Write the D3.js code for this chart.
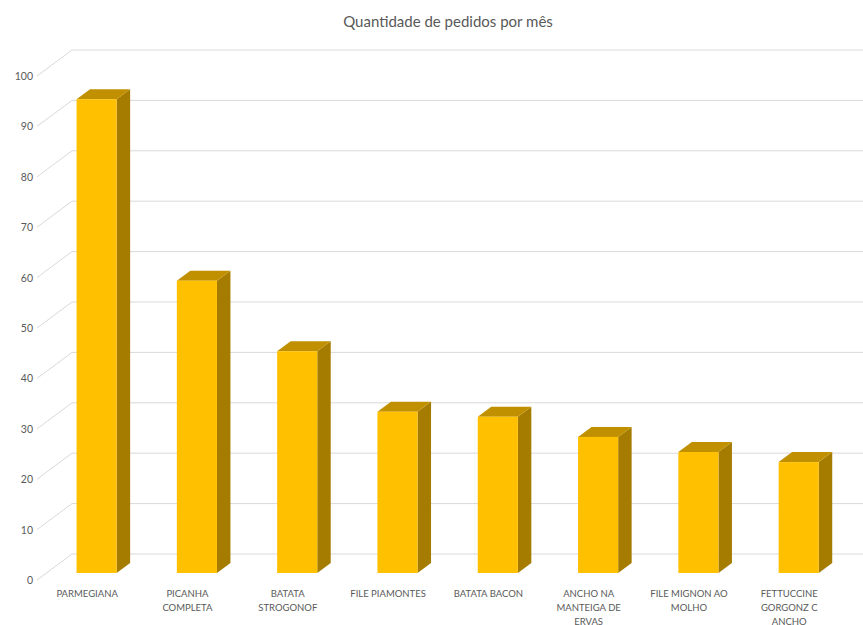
<!DOCTYPE html>
<html lang="pt">
<head>
    <meta charset="UTF-8">
    <title>Quantidade de pedidos por mês</title>
    <script src="https://cdnjs.cloudflare.com/ajax/libs/d3/7.8.5/d3.min.js"></script>
    <style>
        body { margin: 0; background: #fff; }
        svg { display: block; font-family: Lato, "Open Sans", sans-serif; }
        .tick-label, .cat-label { fill: #595959; }
        .title { fill: #595959; }
    </style>
</head>
<body>
    <svg id="chart" width="863" height="625"></svg>
    <script>
        // Data
        const categories = ["PARMEGIANA", "PICANHA COMPLETA", "BATATA STROGONOF", "FILE PIAMONTES",
            "BATATA BACON", "ANCHO NA MANTEIGA DE ERVAS", "FILE MIGNON AO MOLHO", "FETTUCCINE GORGONZ C ANCHO"];
        const pedidos = [94, 58, 44, 32, 31, 27, 24, 22];
        const yTicks = [0, 10, 20, 30, 40, 50, 60, 70, 80, 90, 100];

        const svg = d3.select("#chart");

        // front plane of the floor, depth offset goes up-right
        const x = d3.scaleBand()
            .domain(categories)
            .range([37, 37 + 100.3 * categories.length])
            .paddingInner(0).paddingOuter(0);
        const y = d3.scaleLinear().domain([0, 100]).range([580, 76]);
        const depth = {dx: 35, dy: -26};
        const proj = (px, py, d) => [px + depth.dx * d, py + depth.dy * d];

        const barW = x.bandwidth() / 2.5;   // gap width 150%
        const dFront = 0.27, dBack = 0.655;

        // back wall gridlines + left wall diagonals
        const grid = svg.append("g");
        yTicks.forEach(t => {
            const [bx, by] = proj(37, y(t), 1);
            grid.append("line")
                .attr("x1", bx).attr("y1", by)
                .attr("x2", 863).attr("y2", by)
                .attr("stroke", "#d9d9d9").attr("stroke-width", 1);
            grid.append("line")
                .attr("x1", 37).attr("y1", y(t))
                .attr("x2", bx).attr("y2", by)
                .attr("stroke", "#d9d9d9").attr("stroke-width", 1);
        });

        svg.append("g").selectAll("text")
            .data(yTicks)
            .enter().append("text")
            .attr("class", "tick-label")
            .attr("x", 33)
            .attr("y", d => y(d) + 4)
            .attr("text-anchor", "end")
            .attr("font-size", 10.5)
            .text(d => d);

        // bars
        const bars = svg.append("g");
        categories.forEach((c, i) => {
            const v = pedidos[i];
            const x0 = x(c) + (x.bandwidth() - barW) / 2;
            const x1 = x0 + barW;
            const fb = proj(x0, y(0), dFront), ft = proj(x0, y(v), dFront);
            const fr = proj(x1, y(0), dFront), frt = proj(x1, y(v), dFront);
            const bb = proj(x1, y(0), dBack), bt = proj(x1, y(v), dBack);
            const blt = proj(x0, y(v), dBack);
            const g = bars.append("g");
            // side
            g.append("polygon")
                .attr("points", [frt, fr, bb, bt].map(p => p.join(",")).join(" "))
                .attr("fill", "#a67c00");
            // top
            g.append("polygon")
                .attr("points", [ft, frt, bt, blt].map(p => p.join(",")).join(" "))
                .attr("fill", "#c09000");
            // front
            g.append("rect")
                .attr("x", ft[0]).attr("y", ft[1])
                .attr("width", barW).attr("height", fb[1] - ft[1])
                .attr("fill", "#ffc000");
        });

        // category labels, wrapped
        function wrap(textSel, width) {
            textSel.each(function() {
                const text = d3.select(this);
                const words = text.text().split(" ");
                const cx = +text.attr("x");
                text.text(null);
                let line = [], lineNo = 0;
                let tspan = text.append("tspan").attr("x", cx).attr("dy", 0);
                words.forEach(w => {
                    line.push(w);
                    tspan.text(line.join(" "));
                    if (tspan.node().getComputedTextLength() > width && line.length > 1) {
                        line.pop();
                        tspan.text(line.join(" "));
                        line = [w];
                        lineNo++;
                        tspan = text.append("tspan").attr("x", cx).attr("dy", 14).text(w);
                    }
                });
            });
        }

        svg.append("g").selectAll("text")
            .data(categories)
            .enter().append("text")
            .attr("class", "cat-label")
            .attr("x", d => x(d) + x.bandwidth() / 2)
            .attr("y", 597)
            .attr("text-anchor", "middle")
            .attr("font-size", 9.5)
            .text(d => d)
            .call(wrap, 80);

        svg.append("text")
            .attr("class", "title")
            .attr("x", 448)
            .attr("y", 27)
            .attr("text-anchor", "middle")
            .attr("font-size", 15)
            .text("Quantidade de pedidos por mês");
    </script>
</body>
</html>
